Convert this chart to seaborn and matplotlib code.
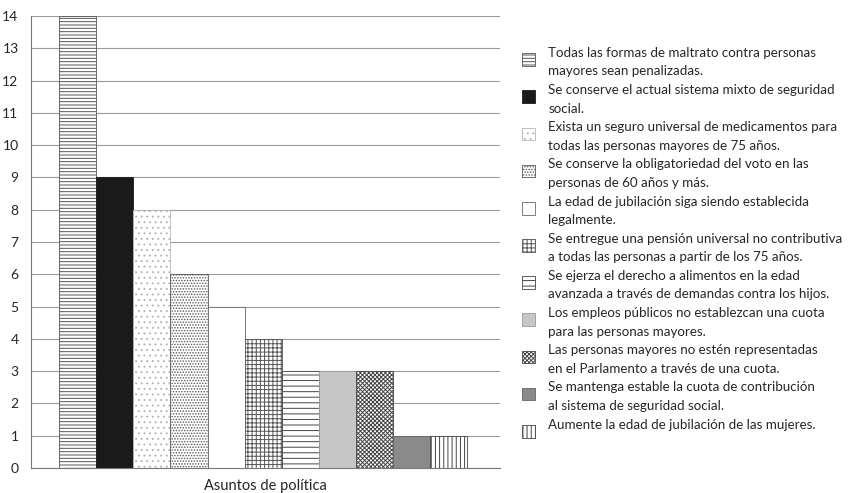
import pandas as pd
import matplotlib.pyplot as plt
import seaborn as sns
from matplotlib.patches import Rectangle
from matplotlib.legend_handler import HandlerPatch

# datos
asuntos = [
    "Todas las formas de maltrato contra personas\nmayores sean penalizadas.",
    "Se conserve el actual sistema mixto de seguridad\nsocial.",
    "Exista un seguro universal de medicamentos para\ntodas las personas mayores de 75 años.",
    "Se conserve la obligatoriedad del voto en las\npersonas de 60 años y más.",
    "La edad de jubilación siga siendo establecida\nlegalmente.",
    "Se entregue una pensión universal no contributiva\na todas las personas a partir de los 75 años.",
    "Se ejerza el derecho a alimentos en la edad\navanzada a través de demandas contra los hijos.",
    "Los empleos públicos no establezcan una cuota\npara las personas mayores.",
    "Las personas mayores no estén representadas\nen el Parlamento a través de una cuota.",
    "Se mantenga estable la cuota de contribución\nal sistema de seguridad social.",
    "Aumente la edad de jubilación de las mujeres.\n",
]
valores = [14, 9, 8, 6, 5, 4, 3, 3, 3, 1, 1]
yticks = list(range(0, 15))

# estilos
rellenos = ['white', '#1a1a1a', 'white', 'white', 'white', 'white',
            'white', '#c6c6c6', 'white', '#8a8a8a', 'white']
tramas = ['-----', '', '...', '......', '', '++++', '---', '', 'xxxxxxxx', '', '||||']
bordes = ['#555555', '#1a1a1a', '#b5b5b5', '#5a5a5a', '#666666', '#555555',
          '#444444', '#999999', '#444444', '#666666', '#444444']

df = pd.DataFrame({'Asunto': asuntos, 'Personas': valores,
                   'Grupo': 'Asuntos de política'})

sns.set_style("white")
plt.rcParams['font.family'] = ['Lato', 'DejaVu Sans']
plt.rcParams['hatch.linewidth'] = 0.7

fig = plt.figure(figsize=(8.49, 4.93), dpi=100)
ax = fig.add_axes([0.0365, 0.0507, 0.552, 0.917])

sns.barplot(data=df, x='Grupo', y='Personas', hue='Asunto',
            palette=dict(zip(asuntos, rellenos)), saturation=1,
            width=0.8, legend=False, ax=ax, linewidth=0.6, errorbar=None)

for cont, trama, borde in zip(ax.containers, tramas, bordes):
    for p in cont.patches:
        p.set_hatch(trama)
        p.set_edgecolor(borde)

ax.set_xlim(-0.455, 0.463)
ax.set_ylim(0, 14)
ax.set_yticks(yticks)
ax.set_xticks([])
ax.set_ylabel('')
ax.set_xlabel('Asuntos de política', fontsize=10.5, labelpad=8)
ax.set_axisbelow(True)
ax.yaxis.grid(True, color='#9a9a9a', linewidth=0.8)
ax.tick_params(axis='y', length=3, color='#666666', labelsize=10, pad=6)
for s in ['top', 'right']:
    ax.spines[s].set_visible(False)
for s in ['left', 'bottom']:
    ax.spines[s].set_color('#777777')
    ax.spines[s].set_linewidth(0.8)


# cuadro de la leyenda alineado con la primera línea
def cuadro_arriba(legend, orig_handle, xdescent, ydescent, width, height, fontsize):
    lado = 0.95 * fontsize
    return Rectangle((-xdescent, -ydescent + height - lado * 1.12), lado, lado)


handles = [c.patches[0] for c in ax.containers]
leg = fig.legend(handles, asuntos, loc='upper left', bbox_to_anchor=(0.615, 0.905),
                 frameon=False, fontsize=9.6, handlelength=0.95, handleheight=2.2,
                 handletextpad=1.0, labelspacing=0.5, borderaxespad=0, borderpad=0,
                 handler_map={Rectangle: HandlerPatch(patch_func=cuadro_arriba)})
for t in leg.get_texts():
    t.set_linespacing(1.65)

fig.savefig('out.png', dpi=100)
